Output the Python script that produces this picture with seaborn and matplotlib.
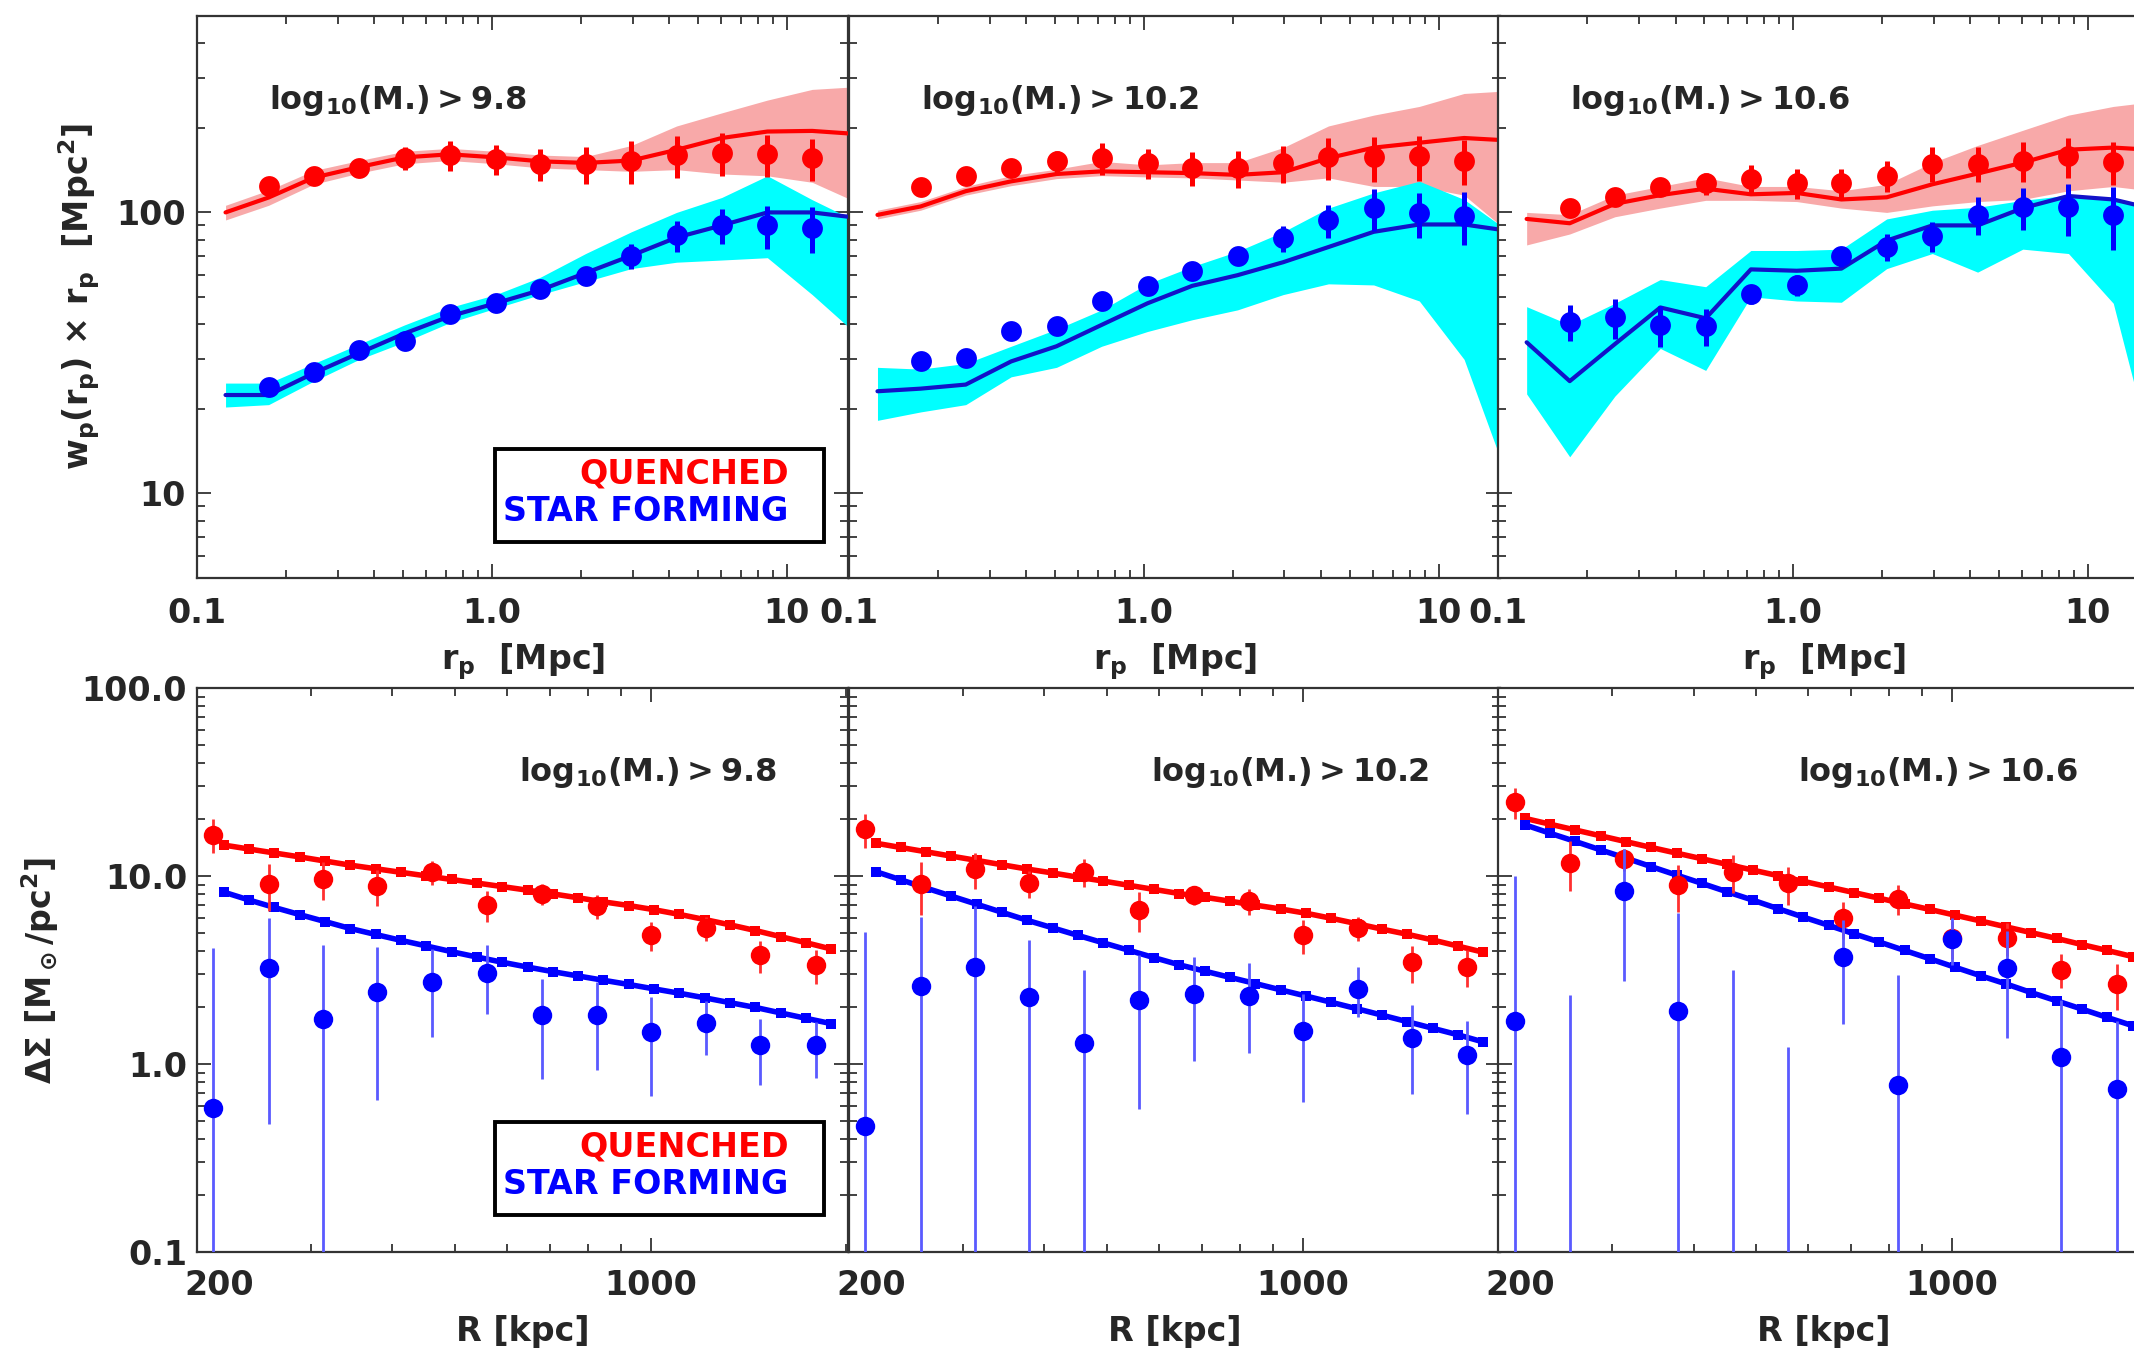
import matplotlib
matplotlib.use("Agg")
import matplotlib.pyplot as plt
import matplotlib.transforms as mtransforms
import seaborn as sns
import numpy as np
from matplotlib.ticker import LogLocator, NullFormatter, FixedLocator, FixedFormatter
from matplotlib.patches import Rectangle

# ---------------- data: top row (projected clustering) ----------------
mass_cuts = ["9.8", "10.2", "10.6"]
rp_data = [0.175, 0.249, 0.355, 0.506, 0.72, 1.03, 1.46, 2.08, 2.97, 4.23, 6.02, 8.6, 12.2]
rp_model = [0.125, 0.175, 0.249, 0.355, 0.506, 0.72, 1.03, 1.46, 2.08, 2.97, 4.23, 6.02, 8.6, 12.2, 16.2]

wp_q_1 = [124, 135, 144, 156, 160, 155, 149, 149, 153, 160, 163, 161, 156]
wp_q_err_1 = [8, 9, 9.5, 14.4, 19.8, 18.6, 19.6, 22.6, 26.4, 27.6, 28.1, 27.8, 26.9]
wp_sf_1 = [24.0, 27.0, 32.4, 34.9, 43.5, 47.5, 53.2, 59.6, 70.2, 82.8, 89.9, 89.9, 88.3]
wp_sf_err_1 = [1.1, 1.2, 1.4, 1.5, 1.9, 2.1, 2.9, 3.5, 7.3, 10.3, 12.9, 15.5, 16.3]
mod_q_1 = [100, 113, 133, 145, 157, 161, 157, 152, 150, 153, 167, 184, 194, 195, 191]
band_q_hi_1 = [106, 120, 141, 153, 165, 169, 165, 160, 158, 173, 203, 226, 251, 274, 279]
band_q_lo_1 = [94, 106, 126, 138, 149, 153, 149, 144, 142, 140, 142, 137, 135, 128, 112]
mod_sf_1 = [22.4, 22.4, 26.8, 31.6, 37.1, 42.7, 47.5, 52.9, 60.9, 70.2, 81.4, 89.9, 100, 100, 96.5]
band_sf_hi_1 = [24.7, 24.7, 29.0, 34.0, 39.8, 45.9, 51.0, 58.8, 71.4, 85.3, 100, 113, 135, 111, 96]
band_sf_lo_1 = [20.3, 20.7, 25.1, 30.0, 34.6, 40.5, 45.6, 51.0, 56.7, 63.1, 66.5, 67.7, 69.0, 51.0, 39.1]

wp_q_2 = [123, 135, 144, 152, 156, 150, 144, 144, 150, 157, 157, 158.5, 153]
wp_q_err_2 = [3.5, 4, 4.5, 14, 20.6, 18, 20, 22, 23, 27, 29, 29, 28]
wp_sf_2 = [29.5, 30.3, 37.7, 39.5, 48.4, 54.8, 62.0, 69.7, 80.9, 93.8, 103.6, 99.3, 97.2]
wp_sf_err_2 = [1, 1, 1.2, 1.3, 1.5, 1.7, 3.4, 4.6, 8.4, 12.4, 17.9, 18.4, 20.9]
mod_q_2 = [98, 105, 119, 129, 137, 140, 139, 138, 136, 139, 156, 170, 177, 184, 181]
band_q_hi_2 = [101.8, 109.3, 123.7, 135.2, 142.5, 151.9, 147.6, 150.4, 150.4, 170.1, 203.1, 221.9, 238.3, 265, 269.8]
band_q_lo_2 = [94.8, 101.8, 115.2, 124.5, 131.9, 135.2, 133.7, 132.7, 130.4, 128.1, 132.7, 123.7, 123.7, 115.2, 89.9]
mod_sf_2 = [23.1, 23.6, 24.4, 29.5, 33.4, 39.8, 47.5, 54.8, 59.8, 66.5, 75.3, 85.3, 90.6, 90.6, 86.8]
band_sf_hi_2 = [28.1, 27.7, 29.0, 33.4, 38.4, 45.0, 55.7, 64.2, 72.7, 85.3, 103.6, 117.3, 129.1, 111.2, 89.9]
band_sf_lo_2 = [18.2, 19.5, 20.7, 26.0, 28.1, 33.4, 37.7, 41.5, 45.0, 51.0, 55.7, 55.2, 48.4, 30.0, 13.3]

wp_q_3 = [103.6, 113.2, 122.8, 126.8, 131.8, 127.2, 126.8, 135.2, 149.3, 149.3, 153.0, 158.5, 151.4]
wp_q_err_3 = [3.5, 4, 4.5, 11.7, 16, 15.5, 15.4, 17.2, 21, 21, 24.5, 25.5, 26]
wp_sf_3 = [40.9, 42.3, 39.8, 39.5, 51.1, 55.2, 69.7, 75.3, 82.3, 98.2, 104.3, 104.3, 98.2]
wp_sf_err_3 = [5.9, 6.8, 6.7, 6.0, 3.7, 4.9, 5.6, 8.4, 9.9, 14.9, 18, 21.9, 25]
mod_q_3 = [94.8, 91.5, 107.3, 115.2, 121.5, 116.0, 117.3, 111.2, 113.2, 125.9, 137.5, 150.4, 167.2, 170.1, 167.2]
band_q_hi_3 = [100, 98.2, 115.2, 123.7, 132.8, 123.7, 123.7, 119.4, 125.9, 150.4, 173.1, 196.0, 221.9, 238.3, 246.9]
band_q_lo_3 = [76.6, 83.8, 96.5, 103.6, 110.4, 110.4, 109.3, 103.6, 100, 105.5, 109.3, 111.2, 119.4, 123.7, 119.4]
mod_sf_3 = [34.5, 25.1, 34.0, 45.9, 42.0, 62.7, 62.0, 63.1, 79.4, 89.9, 89.9, 103.6, 114.4, 111.2, 103.6]
band_sf_hi_3 = [46.2, 39.8, 47.5, 57.7, 54.4, 73.2, 73.2, 74.0, 94.8, 101.8, 104.3, 110.4, 115.2, 113.2, 100]
band_sf_lo_3 = [22.6, 13.5, 22.2, 32.8, 27.4, 50.1, 48.4, 47.9, 63.1, 71.4, 61.3, 74.0, 71.4, 47.5, 15]

# ---------------- data: bottom row (lensing) ----------------
R_data = [212, 258, 313, 379, 460, 559, 679, 825, 1000, 1216, 1471, 1793]
R_model = [219.8, 240.4, 263.0, 287.7, 314.8, 344.4, 376.7, 412.1, 450.8, 493.2, 539.5, 590.2, 645.7,
           706.3, 772.7, 845.3, 924.7, 1011.6, 1106.6, 1210.6, 1324.3, 1448.8, 1584.9, 1733.8, 1896.7]

ds_q_1 = [16.6, 9.04, 9.70, 8.81, 10.5, 7.03, 8.04, 6.92, 4.83, 5.29, 3.79, 3.35]
ds_q_err_1 = [3.4, 2.5, 2.2, 1.9, 1.5, 1.3, 1.0, 1.0, 0.85, 0.76, 0.75, 0.7]
ds_sf_1 = [0.587, 3.23, 1.743, 2.42, 2.74, 3.06, 1.83, 1.83, 1.476, 1.643, 1.257, 1.257]
ds_sf_err_1 = [3.57, 2.75, 2.53, 1.78, 1.35, 1.22, 1.0, 0.9, 0.8, 0.52, 0.48, 0.41]
mod_ds_q_1 = [14.62, 13.93, 13.27, 12.65, 12.02, 11.43, 10.94, 10.47, 10.02, 9.59, 9.18, 8.79, 8.41,
              8.04, 7.66, 7.29, 6.97, 6.62, 6.25, 5.87, 5.50, 5.13, 4.76, 4.42, 4.09]
mod_ds_sf_1 = [8.22, 7.46, 6.81, 6.24, 5.73, 5.26, 4.89, 4.55, 4.25, 3.96, 3.71, 3.48, 3.28,
               3.10, 2.94, 2.79, 2.65, 2.51, 2.38, 2.25, 2.12, 2.00, 1.87, 1.75, 1.64]

ds_q_2 = [17.7, 9.04, 10.9, 9.14, 10.5, 6.63, 7.91, 7.38, 4.83, 5.29, 3.48, 3.30]
ds_q_err_2 = [3.6, 2.8, 2.4, 1.5, 1.8, 1.6, 0.9, 1.2, 1.0, 0.75, 0.78, 0.74]
ds_sf_2 = [0.468, 2.59, 3.30, 2.27, 1.29, 2.18, 2.37, 2.30, 1.50, 2.52, 1.38, 1.12]
ds_sf_err_2 = [4.55, 3.46, 3.62, 2.28, 1.89, 1.6, 1.33, 1.15, 0.87, 0.75, 0.69, 0.58]
mod_ds_q_2 = [14.96, 14.19, 13.46, 12.76, 12.11, 11.48, 10.89, 10.38, 9.86, 9.40, 8.93, 8.49, 8.07,
              7.71, 7.35, 7.00, 6.68, 6.34, 5.96, 5.58, 5.22, 4.90, 4.57, 4.24, 3.93]
mod_ds_sf_2 = [10.57, 9.55, 8.63, 7.82, 7.08, 6.41, 5.81, 5.30, 4.83, 4.41, 4.03, 3.68, 3.37,
               3.12, 2.89, 2.68, 2.48, 2.30, 2.13, 1.97, 1.82, 1.68, 1.55, 1.43, 1.31]

ds_q_3 = [24.7, 11.8, 12.3, 8.95, 10.5, 9.14, 5.95, 7.58, 4.70, 4.70, 3.18, 2.68]
ds_q_err_3 = [4.6, 3.5, 1.6, 2.55, 2.4, 2.1, 1.3, 1.4, 1.1, 0.95, 0.65, 0.74]
ds_sf_3 = [1.70, -0.5, 8.35, 1.91, -0.4, -0.3, 3.73, 0.776, 4.65, 3.23, 1.09, 0.735]
ds_sf_err_3 = [8.3, 2.84, 5.6, 4.47, 3.58, 1.53, 2.1, 2.19, 1.3, 1.85, 1.1, 0.95]
mod_ds_q_3 = [20.28, 18.88, 17.58, 16.37, 15.24, 14.19, 13.24, 12.36, 11.53, 10.76, 10.05, 9.38, 8.75,
              8.17, 7.62, 7.11, 6.64, 6.19, 5.77, 5.37, 5.00, 4.66, 4.32, 4.02, 3.73]
mod_ds_sf_3 = [18.75, 16.90, 15.28, 13.77, 12.45, 11.22, 10.12, 9.14, 8.24, 7.45, 6.71, 6.05, 5.47,
               4.93, 4.46, 4.02, 3.63, 3.27, 2.95, 2.67, 2.40, 2.17, 1.96, 1.77, 1.60]

top_sets = [
    (wp_q_1, wp_q_err_1, wp_sf_1, wp_sf_err_1, mod_q_1, band_q_lo_1, band_q_hi_1, mod_sf_1, band_sf_lo_1, band_sf_hi_1),
    (wp_q_2, wp_q_err_2, wp_sf_2, wp_sf_err_2, mod_q_2, band_q_lo_2, band_q_hi_2, mod_sf_2, band_sf_lo_2, band_sf_hi_2),
    (wp_q_3, wp_q_err_3, wp_sf_3, wp_sf_err_3, mod_q_3, band_q_lo_3, band_q_hi_3, mod_sf_3, band_sf_lo_3, band_sf_hi_3),
]
bot_sets = [
    (ds_q_1, ds_q_err_1, ds_sf_1, ds_sf_err_1, mod_ds_q_1, mod_ds_sf_1),
    (ds_q_2, ds_q_err_2, ds_sf_2, ds_sf_err_2, mod_ds_q_2, mod_ds_sf_2),
    (ds_q_3, ds_q_err_3, ds_sf_3, ds_sf_err_3, mod_ds_q_3, mod_ds_sf_3),
]

# ---------------- style ----------------
sns.set_theme(style="ticks")
plt.rcParams["font.family"] = ["DejaVu Sans"]
plt.rcParams["font.weight"] = "bold"
plt.rcParams["axes.labelweight"] = "bold"
plt.rcParams["mathtext.fontset"] = "custom"
plt.rcParams["mathtext.rm"] = "DejaVu Sans:bold"
plt.rcParams["mathtext.bf"] = "DejaVu Sans:bold"
plt.rcParams["mathtext.it"] = "DejaVu Sans:bold:italic"
plt.rcParams["mathtext.sf"] = "DejaVu Sans:bold"

RED = "#ff0000"
BLUE = "#0000ff"
PINK = "#f8a9a9"
CYAN = "#00ffff"
LINE_BLUE = "#1212c8"
SPINE = "#333333"
FS = 24       # tick labels, axis labels, legend
FS_ANN = 23   # mass-cut annotations

fig = plt.figure(figsize=(21.34, 13.55), dpi=100)
lefts = [0.0923, 0.3978, 0.7020]
W = 0.3053


def ann_text(cut):
    return r"log$_{\rm 10}$(M.)" + "\u2009>\u2009" + cut


def style_axes(ax):
    for s in ax.spines.values():
        s.set_color(SPINE)
        s.set_linewidth(1.6)
    ax.tick_params(which="both", direction="in", top=True, right=True,
                   color=SPINE, width=1.3, labelsize=FS)
    ax.tick_params(which="major", length=10)
    ax.tick_params(which="minor", length=6)


def add_legend(ax):
    ax.add_patch(Rectangle((0.458, 0.065), 0.505, 0.165, transform=ax.transAxes,
                           fill=False, ec="black", lw=2.8, zorder=10))
    ax.text(0.908, 0.186, "QUENCHED", color=RED, fontsize=FS, fontweight="bold",
            ha="right", va="center", transform=ax.transAxes, zorder=11)
    ax.text(0.908, 0.119, "STAR FORMING", color=BLUE, fontsize=FS, fontweight="bold",
            ha="right", va="center", transform=ax.transAxes, zorder=11)


# ---------------- top row ----------------
for i, (l, data) in enumerate(zip(lefts, top_sets)):
    (wq, wqe, wsf, wsfe, mq, bqlo, bqhi, msf, bsflo, bsfhi) = data
    ax = fig.add_axes([l, 0.5734, W, 0.4148])
    ax.set_xscale("log")
    ax.set_yscale("log")
    ax.fill_between(rp_model, bqlo, bqhi, color=PINK, lw=0, zorder=1)
    ax.fill_between(rp_model, bsflo, bsfhi, color=CYAN, lw=0, zorder=1.5)
    sns.lineplot(x=rp_model, y=mq, ax=ax, color=RED, lw=3.0, sort=False,
                 estimator=None, zorder=3)
    sns.lineplot(x=rp_model, y=msf, ax=ax, color=LINE_BLUE, lw=3.0, sort=False,
                 estimator=None, zorder=3)
    ax.errorbar(rp_data, wq, yerr=wqe, fmt="o", ms=15, color=RED, ecolor=RED,
                elinewidth=3.6, capsize=0, mew=0, zorder=4)
    ax.errorbar(rp_data, wsf, yerr=wsfe, fmt="o", ms=15, color=BLUE, ecolor=BLUE,
                elinewidth=3.6, capsize=0, mew=0, zorder=4)
    ax.set_xlim(0.1, 16.2)
    ax.set_ylim(5, 500)
    style_axes(ax)
    ax.xaxis.set_major_locator(FixedLocator([0.1, 1.0, 10.0]))
    ax.xaxis.set_major_formatter(FixedFormatter(["0.1", "1.0", "10"]))
    ax.xaxis.set_minor_locator(LogLocator(base=10, subs=np.arange(2, 10)))
    ax.xaxis.set_minor_formatter(NullFormatter())
    ax.yaxis.set_major_locator(FixedLocator([10.0, 100.0]))
    ax.yaxis.set_minor_locator(LogLocator(base=10, subs=np.arange(2, 10)))
    ax.yaxis.set_minor_formatter(NullFormatter())
    if i == 0:
        ax.yaxis.set_major_formatter(FixedFormatter(["10", "100"]))
        ax.set_ylabel(r"w$_{\rm p}$(r$_{\rm p}$) × r$_{\rm p}$  [Mpc$^{\rm 2}$]",
                      fontsize=FS, fontweight="bold")
        ax.yaxis.set_label_coords(-0.145, 0.5)
        add_legend(ax)
    else:
        ax.yaxis.set_major_formatter(NullFormatter())
    ax.tick_params(axis="x", which="major", pad=14)
    ax.tick_params(axis="y", which="major", pad=8)
    ax.set_xlabel(r"r$_{\rm p}$  [Mpc]", fontsize=FS, fontweight="bold")
    ax.xaxis.set_label_coords(0.5, -0.112)
    ax.text(0.11, 0.85, ann_text(mass_cuts[i]), transform=ax.transAxes,
            ha="left", va="center", fontsize=FS_ANN, fontweight="bold", zorder=12)

# ---------------- bottom row ----------------
for i, (l, data) in enumerate(zip(lefts, bot_sets)):
    (dq, dqe, dsf, dsfe, mq, msf) = data
    ax = fig.add_axes([l, 0.0760, W, 0.4162])
    ax.set_xscale("log")
    ax.set_yscale("log")
    sns.lineplot(x=R_model, y=mq, ax=ax, color=RED, lw=4.0, marker="s", markersize=6.5,
                 markeredgewidth=0, sort=False, estimator=None, zorder=2)
    sns.lineplot(x=R_model, y=msf, ax=ax, color=BLUE, lw=4.0, marker="s", markersize=6.5,
                 markeredgewidth=0, sort=False, estimator=None, zorder=2)
    ax.errorbar(R_data, dq, yerr=dqe, fmt="o", ms=14, color=RED, ecolor="#ff3030",
                elinewidth=2.0, capsize=5, capthick=1.8, mew=0, zorder=3)
    ax.errorbar(R_data, dsf, yerr=dsfe, fmt="o", ms=14, color=BLUE, ecolor="#5a5aff",
                elinewidth=2.0, capsize=5, capthick=1.8, mew=0, zorder=4)
    ax.set_xlim(200, 2015)
    ax.set_ylim(0.1, 100)
    style_axes(ax)
    ax.xaxis.set_major_locator(FixedLocator([200.0, 1000.0]))
    ax.xaxis.set_major_formatter(FixedFormatter(["200", "1000"]))
    ax.xaxis.set_minor_locator(LogLocator(base=10, subs=np.arange(2, 10)))
    ax.xaxis.set_minor_formatter(NullFormatter())
    ax.yaxis.set_major_locator(FixedLocator([0.1, 1.0, 10.0, 100.0]))
    ax.yaxis.set_minor_locator(LogLocator(base=10, subs=np.arange(2, 10)))
    ax.yaxis.set_minor_formatter(NullFormatter())
    if i == 0:
        ax.yaxis.set_major_formatter(FixedFormatter(["0.1", "1.0", "10.0", "100.0"]))
        ax.set_ylabel(r"$\Delta\Sigma$ [M$_\odot$/pc$^{\rm 2}$]", fontsize=FS, fontweight="bold")
        ax.yaxis.set_label_coords(-0.209, 0.5)
        add_legend(ax)
    else:
        ax.yaxis.set_major_formatter(NullFormatter())
    ax.tick_params(axis="x", which="major", pad=12)
    ax.tick_params(axis="y", which="major", pad=7)
    # the "200" label sits slightly right of its tick in the original
    first_tick = ax.xaxis.get_major_ticks()[0]
    first_tick.label1.set_transform(first_tick.label1.get_transform() +
                                    mtransforms.ScaledTranslation(16 / 72, 0, fig.dpi_scale_trans))
    ax.set_xlabel("R [kpc]", fontsize=FS, fontweight="bold")
    ax.xaxis.set_label_coords(0.5, -0.112)
    ax.text(0.89, 0.85, ann_text(mass_cuts[i]), transform=ax.transAxes,
            ha="right", va="center", fontsize=FS_ANN, fontweight="bold", zorder=12)

fig.savefig("out.png", dpi=100)
